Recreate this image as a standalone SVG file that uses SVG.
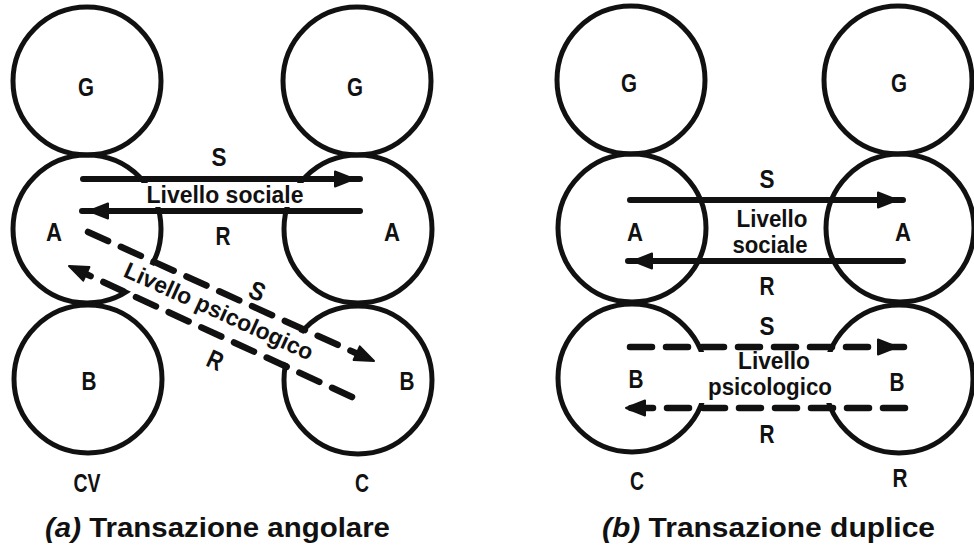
<svg xmlns="http://www.w3.org/2000/svg" width="974" height="552" viewBox="0 0 974 552">
<style>
.c{fill:none;stroke:#111;stroke-width:5}
.m{fill:#fff;stroke:none}
.t{font-family:"Liberation Sans",Arial,sans-serif;font-weight:bold;fill:#111;text-anchor:middle}
.n{font-size:26px}
.lb{font-size:23px}
.cap{font-size:28px;text-anchor:start}
.sol{stroke:#111;stroke-width:6;stroke-linecap:round;fill:none}
.das{stroke:#111;stroke-width:6.5;stroke-linecap:round;fill:none;stroke-dasharray:22 14}
.ah{fill:#111;stroke:#111;stroke-width:2;stroke-linejoin:round}
</style>
<defs>
<path id="ah" d="M0,0 L-19,-7.5 L-19,7.5 Z"/>
</defs>
<rect width="974" height="552" fill="#fff"/>

<!-- Panel (a): nodes -->
<g id="a-G-left"><circle class="c" cx="87" cy="81" r="74"/><text class="t n" x="86" y="96" textLength="16" lengthAdjust="spacingAndGlyphs">G</text></g>
<g id="a-G-right"><circle class="c" cx="357" cy="81" r="74"/><text class="t n" x="355" y="96" textLength="16" lengthAdjust="spacingAndGlyphs">G</text></g>
<g id="a-A-left"><circle class="c" cx="87" cy="229" r="74"/><text class="t n" x="54" y="241" textLength="16" lengthAdjust="spacingAndGlyphs">A</text></g>
<g id="a-A-right"><circle class="c" cx="358" cy="229" r="74"/><text class="t n" x="392" y="241" textLength="16" lengthAdjust="spacingAndGlyphs">A</text></g>
<g id="a-B-left"><circle class="c" cx="88" cy="379" r="74"/><text class="t n" x="89" y="390" textLength="15" lengthAdjust="spacingAndGlyphs">B</text></g>
<g id="a-B-right"><circle class="c" cx="358" cy="380" r="74"/><text class="t n" x="407" y="390" textLength="15" lengthAdjust="spacingAndGlyphs">B</text></g>

<!-- Panel (b): nodes -->
<g id="b-G-left"><circle class="c" cx="631" cy="80" r="74"/><text class="t n" x="629" y="92" textLength="16" lengthAdjust="spacingAndGlyphs">G</text></g>
<g id="b-G-right"><circle class="c" cx="898" cy="80" r="74"/><text class="t n" x="899" y="92" textLength="16" lengthAdjust="spacingAndGlyphs">G</text></g>
<g id="b-A-left"><circle class="c" cx="632" cy="228" r="74"/><text class="t n" x="635" y="241" textLength="16" lengthAdjust="spacingAndGlyphs">A</text></g>
<g id="b-A-right"><circle class="c" cx="900" cy="228" r="74"/><text class="t n" x="903" y="241" textLength="16" lengthAdjust="spacingAndGlyphs">A</text></g>
<g id="b-B-left"><circle class="c" cx="632" cy="378" r="74"/><text class="t n" x="636" y="388" textLength="15" lengthAdjust="spacingAndGlyphs">B</text></g>
<g id="b-B-right"><circle class="c" cx="899" cy="379" r="74"/><text class="t n" x="897" y="391" textLength="15" lengthAdjust="spacingAndGlyphs">B</text></g>

<!-- white bands behind level labels -->
<g id="bands">
<rect class="m" x="138" y="183" width="172" height="24"/>
<polygon class="m" points="112,247 328,345 328,382 112,283"/>
<rect class="m" x="697" y="352" width="136" height="51"/>
</g>

<!-- Connectors -->
<g id="connectors">
<line class="sol" x1="83" y1="179" x2="360" y2="179"/>
<use href="#ah" class="ah" transform="translate(354,179)"/>
<line class="sol" x1="82" y1="211" x2="360" y2="211"/>
<use href="#ah" class="ah" transform="translate(89,211) rotate(180)"/>
<line class="das" x1="88" y1="232" x2="358" y2="354"/>
<use href="#ah" class="ah" transform="translate(374,361) rotate(24.4)"/>
<line class="das" x1="352" y1="397" x2="86" y2="274"/>
<use href="#ah" class="ah" transform="translate(69,266) rotate(204.4)"/>

<line class="sol" x1="630" y1="200" x2="903" y2="200"/>
<use href="#ah" class="ah" transform="translate(897,200)"/>
<line class="sol" x1="628" y1="261" x2="903" y2="261"/>
<use href="#ah" class="ah" transform="translate(633,261) rotate(180)"/>
<line class="das" x1="630" y1="347" x2="906" y2="347"/>
<use href="#ah" class="ah" transform="translate(897,347)"/>
<line class="das" x1="905" y1="408" x2="622" y2="408"/>
<use href="#ah" class="ah" transform="translate(626,408) rotate(180)"/>
</g>

<!-- Connector labels -->
<g id="labels-a">
<text class="t n" x="219" y="166" textLength="15" lengthAdjust="spacingAndGlyphs">S</text>
<text class="t lb" x="225" y="203" textLength="157" lengthAdjust="spacingAndGlyphs">Livello sociale</text>
<text class="t n" x="223" y="245" textLength="15" lengthAdjust="spacingAndGlyphs">R</text>
<text class="t n" transform="translate(257,292) rotate(24.4)" x="0" y="8" textLength="15" lengthAdjust="spacingAndGlyphs">S</text>
<text class="t lb" transform="translate(219,311) rotate(24.4)" x="0" y="8" textLength="205" lengthAdjust="spacingAndGlyphs">Livello psicologico</text>
<text class="t n" transform="translate(215,361) rotate(24.4)" x="0" y="8" textLength="15" lengthAdjust="spacingAndGlyphs">R</text>
<text class="t n" x="87" y="492" textLength="27" lengthAdjust="spacingAndGlyphs">CV</text>
<text class="t n" x="362" y="492" textLength="14" lengthAdjust="spacingAndGlyphs">C</text>
<text class="t cap" x="45" y="537" textLength="345" lengthAdjust="spacingAndGlyphs"><tspan font-style="italic">(a)</tspan> Transazione angolare</text>
</g>
<g id="labels-b">
<text class="t n" x="767" y="188" textLength="15" lengthAdjust="spacingAndGlyphs">S</text>
<text class="t lb" x="772" y="227" textLength="71" lengthAdjust="spacingAndGlyphs">Livello</text>
<text class="t lb" x="770" y="253" textLength="75" lengthAdjust="spacingAndGlyphs">sociale</text>
<text class="t n" x="767" y="295" textLength="15" lengthAdjust="spacingAndGlyphs">R</text>
<text class="t n" x="767" y="335" textLength="15" lengthAdjust="spacingAndGlyphs">S</text>
<text class="t lb" x="774" y="369" textLength="72" lengthAdjust="spacingAndGlyphs">Livello</text>
<text class="t lb" x="770" y="395" textLength="124" lengthAdjust="spacingAndGlyphs">psicologico</text>
<text class="t n" x="767" y="443" textLength="15" lengthAdjust="spacingAndGlyphs">R</text>
<text class="t n" x="637" y="490" textLength="14" lengthAdjust="spacingAndGlyphs">C</text>
<text class="t n" x="900" y="487" textLength="15" lengthAdjust="spacingAndGlyphs">R</text>
<text class="t cap" x="602" y="537" textLength="333" lengthAdjust="spacingAndGlyphs"><tspan font-style="italic">(b)</tspan> Transazione duplice</text>
</g>
</svg>
